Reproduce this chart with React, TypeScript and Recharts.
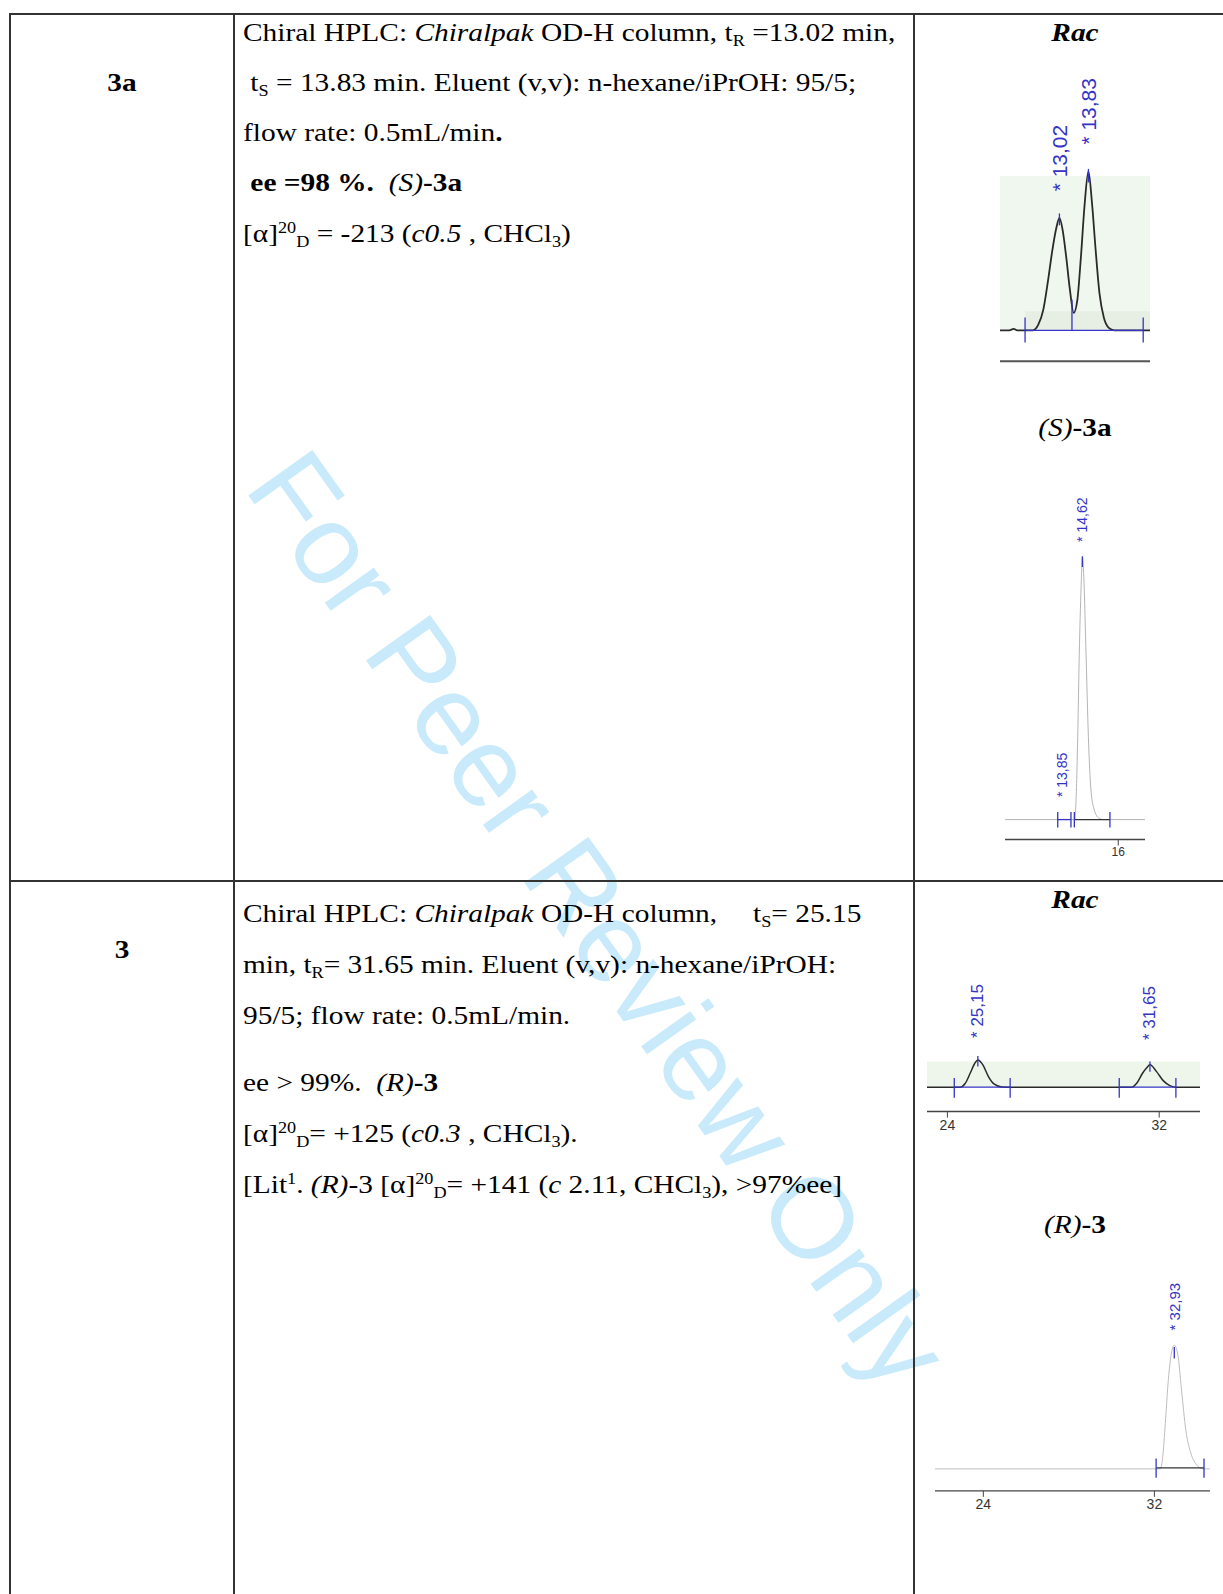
import React from 'react';
import { ComposedChart, Line, XAxis, YAxis, ReferenceArea, ReferenceLine, ReferenceDot } from 'recharts';

// ---------------- data (time in min, detector signal normalised to tallest peak = 100) ----------------
// Rac 3a
const rac3aTime = [11.36, 11.62, 11.74, 11.84, 12.28, 12.43, 12.57, 12.7, 12.82, 12.93, 13.02, 13.11, 13.21, 13.31, 13.42, 13.52, 13.62, 13.72, 13.83, 13.93, 14.03, 14.14, 14.26, 14.4, 14.55, 15.55];
const rac3aSignal = [0, 0, 0.9, 0, 0, 3.5, 13, 31, 50, 64, 70.7, 63, 46, 26, 11, 19, 46, 78, 100, 80, 51, 23, 8, 1.5, 0, 0];
const rac3aPeaks = [13.02, 13.83];
const rac3aLimits = [12.06, 13.37, 15.36];
const rac3aTicks: number[] = [];

// (S)-3a
const s3aTime = [11.64, 14.33, 14.37, 14.44, 14.5, 14.57, 14.62, 14.68, 14.76, 14.85, 14.95, 15.08, 15.23, 15.42, 17.03];
const s3aSignal = [0, 0, 6.1, 31.6, 63.4, 88.8, 100, 91, 63.4, 31.6, 11.2, 3.6, 0.8, 0, 0];
const s3aPeaks = [13.85, 14.62];
const s3aLimits = [13.67, 14.18, 14.31, 15.68];
const s3aTicks = [16];

// Rac 3
const rac3Time = [23.23, 24.48, 24.67, 24.86, 25.02, 25.15, 25.34, 25.55, 25.76, 26.05, 26.4, 30.96, 31.15, 31.37, 31.52, 31.65, 31.9, 32.15, 32.4, 32.66, 33.54];
const rac3Signal = [0, 0, 13.4, 51, 85, 100, 82, 39, 12, 1, 0, 0, 14.6, 51, 70, 82, 57, 24, 6, 0, 0];
const rac3Peaks = [25.15, 31.65];
const rac3Limits = [24.26, 26.37, 30.49, 32.63];
const rac3Ticks = [24, 32];

// (R)-3
const r3Time = [21.74, 32.27, 32.39, 32.51, 32.65, 32.81, 32.93, 33.09, 33.27, 33.47, 33.71, 33.99, 34.25, 34.6];
const r3Signal = [0, 0, 9.7, 36.6, 71.7, 94.6, 100, 93, 63.6, 31.3, 12.4, 3, 0, 0];
const r3Peaks = [32.93];
const r3Limits = [32.08, 34.32];
const r3Ticks = [24, 32];

// ---------------- styles ----------------
const SERIF = "'Liberation Serif', 'Times New Roman', serif";
const SANS = "'Liberation Sans', Arial, sans-serif";
const BLUE = '#3434c6';
const DARK = '#2a2a2a';
const FS = 26;
const STRETCH = 1.13;

const fmt = (p: number) => '* ' + p.toFixed(2).replace('.', ',');

type Seg = { x1: number; y1: number; x2: number; y2: number; color: string; width?: number };
type Band = { x1: number; x2: number; y1: number; y2: number; fill: string };
type Lbl = { t: number; y: number };

type ChromProps = {
  left: number; top: number; width: number; plotH: number; axisH: number;
  xDomain: [number, number]; yDomain: [number, number];
  time: number[]; signal: number[]; ticks: number[];
  lineColor: string; lineWidth: number; axisColor: string; axisWidth: number; tickFont: number;
  bands: Band[]; segs: Seg[]; labels: Lbl[]; labelSize: number;
};

function Chromatogram(p: ChromProps) {
  const data = p.time.map((t, i) => ({ t, v: p.signal[i] }));
  const hasTicks = p.ticks.length > 0;
  return (
    <div style={{ position: 'absolute', left: p.left, top: p.top }}>
      <ComposedChart width={p.width} height={p.plotH + p.axisH} data={data} margin={{ top: 0, right: 0, bottom: 0, left: 0 }}>
        <XAxis
          dataKey="t"
          type="number"
          domain={p.xDomain}
          allowDataOverflow
          ticks={hasTicks ? p.ticks : undefined}
          interval={0}
          height={p.axisH}
          axisLine={{ stroke: p.axisColor, strokeWidth: p.axisWidth }}
          tickLine={hasTicks ? { stroke: p.axisColor } : false}
          tickSize={6}
          tickMargin={2}
          tick={hasTicks ? { fontSize: p.tickFont, fill: '#333', fontFamily: SANS } : false}
        />
        <YAxis type="number" domain={p.yDomain} allowDataOverflow hide />
        {p.bands.map((b, i) => (
          <ReferenceArea key={'b' + i} x1={b.x1} x2={b.x2} y1={b.y1} y2={b.y2} fill={b.fill} fillOpacity={1} stroke="none" ifOverflow="visible" />
        ))}
        <Line type="monotone" dataKey="v" stroke={p.lineColor} strokeWidth={p.lineWidth} dot={false} activeDot={false} isAnimationActive={false} />
        {p.segs.map((s, i) => (
          <ReferenceLine
            key={'s' + i}
            segment={[{ x: s.x1, y: s.y1 }, { x: s.x2, y: s.y2 }]}
            stroke={s.color}
            strokeWidth={s.width ?? 1.3}
            ifOverflow="visible"
          />
        ))}
        {p.labels.map((l, i) => (
          <ReferenceDot
            key={'l' + i}
            x={l.t}
            y={l.y}
            r={0}
            ifOverflow="visible"
            shape={(sp: any) => (
              <text
                x={sp.cx}
                y={sp.cy}
                transform={`rotate(-90 ${sp.cx} ${sp.cy})`}
                fill={BLUE}
                fontSize={p.labelSize}
                fontFamily={SANS}
                dominantBaseline="central"
                textAnchor="start"
              >
                {fmt(l.t)}
              </text>
            )}
          />
        ))}
      </ComposedChart>
    </div>
  );
}

const vTick = (x: number, up: number, down: number, color = BLUE): Seg => ({ x1: x, y1: up, x2: x, y2: down, color });

const Sub = ({ children }: { children: React.ReactNode }) => (
  <span style={{ fontSize: '0.62em', position: 'relative', top: '0.3em', lineHeight: 0 }}>{children}</span>
);
const Sup = ({ children }: { children: React.ReactNode }) => (
  <span style={{ fontSize: '0.62em', position: 'relative', top: '-0.55em', lineHeight: 0 }}>{children}</span>
);

const TL = ({ x, b, center, children }: { x: number; b: number; center?: boolean; children: React.ReactNode }) => (
  <div
    style={{
      position: 'absolute',
      left: x,
      top: b - 0.8375 * FS,
      fontSize: FS,
      lineHeight: `${FS}px`,
      whiteSpace: 'pre',
      fontFamily: SERIF,
      color: '#000',
      transform: center ? `translateX(-50%) scaleX(${STRETCH})` : `scaleX(${STRETCH})`,
      transformOrigin: center ? '50% 0' : '0 0',
    }}
  >
    {children}
  </div>
);

const LINE = '#333';
const Rule = ({ x, y, w, h }: { x: number; y: number; w: number; h: number }) => (
  <div style={{ position: 'absolute', left: x, top: y, width: w, height: h, background: LINE }} />
);

export default function App() {
  const TX = 243;
  return (
    <div style={{ position: 'absolute', left: 0, top: 0, width: 1223, height: 1594, overflow: 'hidden', background: '#fff', fontFamily: SERIF }}>
      {/* watermark */}
      <svg width={1223} height={1594} style={{ position: 'absolute', left: 0, top: 0 }}>
        <text
          x={599}
          y={919}
          transform="rotate(54.5 599 919)"
          textAnchor="middle"
          dominantBaseline="central"
          fontSize={114}
          fontFamily={SANS}
          fill="#c8eafb"
        >
          For Peer Review Only
        </text>
      </svg>

      {/* table rules */}
      <Rule x={8.7} y={12.7} w={1223} h={2} />
      <Rule x={8.7} y={880} w={1223} h={2} />
      <Rule x={8.7} y={12.7} w={2} h={1600} />
      <Rule x={232.7} y={12.7} w={2} h={1600} />
      <Rule x={913.3} y={12.7} w={2} h={1600} />

      {/* column 1 */}
      <TL x={121.5} b={91.7} center><b>3a</b></TL>
      <TL x={121.5} b={958.7} center><b>3</b></TL>

      {/* row 1 text */}
      <TL x={TX} b={41.7}>{'Chiral HPLC: '}<i>Chiralpak</i>{' OD-H column, t'}<Sub>R</Sub>{' =13.02 min,'}</TL>
      <TL x={TX} b={91.6}>{' t'}<Sub>S</Sub>{' = 13.83 min. Eluent (v,v): n-hexane/iPrOH: 95/5;'}</TL>
      <TL x={TX} b={141.4}>{'flow rate: 0.5mL/min'}<b>.</b></TL>
      <TL x={TX} b={192.2}><b>{' ee =98 %.'}</b>{'  '}<i>(S)</i><b>-3a</b></TL>
      <TL x={TX} b={243}>{'[α]'}<Sup>20</Sup><Sub>D</Sub>{' = -213 ('}<i>c0.5</i>{' , CHCl'}<Sub>3</Sub>{')'}</TL>

      {/* row 2 text */}
      <TL x={TX} b={923.2}>{'Chiral HPLC: '}<i>Chiralpak</i>{' OD-H column,'}</TL>
      <TL x={753} b={923.2}>{'t'}<Sub>S</Sub>{'= 25.15'}</TL>
      <TL x={TX} b={974}>{'min, t'}<Sub>R</Sub>{'= 31.65 min. Eluent (v,v): n-hexane/iPrOH:'}</TL>
      <TL x={TX} b={1024.8}>{'95/5; flow rate: 0.5mL/min.'}</TL>
      <TL x={TX} b={1091.9}>{'ee > 99%.  '}<i>(R)</i><b>-3</b></TL>
      <TL x={TX} b={1142.8}>{'[α]'}<Sup>20</Sup><Sub>D</Sub>{'= +125 ('}<i>c0.3</i>{' , CHCl'}<Sub>3</Sub>{').'}</TL>
      <TL x={TX} b={1193.6}>{'[Lit'}<Sup>1</Sup>{'. '}<i>(R)</i>{'-3 [α]'}<Sup>20</Sup><Sub>D</Sub>{'= +141 ('}<i>c</i>{' 2.11, CHCl'}<Sub>3</Sub>{'), >97%ee]'}</TL>

      {/* column 3 titles */}
      <TL x={1074.5} b={42} center><b><i>Rac</i></b></TL>
      <TL x={1074.5} b={436.5} center><i>(S)</i><b>-3a</b></TL>
      <TL x={1074.5} b={908.5} center><b><i>Rac</i></b></TL>
      <TL x={1074.5} b={1233.5} center><i>(R)</i><b>-3</b></TL>

      {/* Rac 3a */}
      <Chromatogram
        left={1000} top={60.4} width={150} plotH={301.3} axisH={4}
        xDomain={[11.36, 15.55]} yDomain={[-19.5, 170]}
        time={rac3aTime} signal={rac3aSignal} ticks={rac3aTicks}
        lineColor={DARK} lineWidth={1.8} axisColor="#555" axisWidth={2} tickFont={13}
        bands={[
          { x1: 11.36, x2: 15.55, y1: 0, y2: 97, fill: '#f0f7ee' },
          { x1: rac3aLimits[0], x2: 15.55, y1: 0, y2: 12, fill: '#e7efe5' },
        ]}
        segs={[
          { x1: rac3aLimits[0], y1: 0, x2: rac3aLimits[2], y2: 0, color: BLUE },
          vTick(rac3aLimits[0], 8, -7.7),
          vTick(rac3aLimits[1], 19.3, 0),
          vTick(rac3aLimits[2], 8, -7.7),
          vTick(rac3aPeaks[0], 73.5, 66),
          vTick(rac3aPeaks[1], 101.5, 93),
        ]}
        labels={[{ t: rac3aPeaks[0], y: 87.4 }, { t: rac3aPeaks[1], y: 116.8 }]}
        labelSize={21}
      />

      {/* (S)-3a */}
      <Chromatogram
        left={1005} top={478.8} width={140} plotH={360.5} axisH={22}
        xDomain={[11.64, 17.03]} yDomain={[-7.6, 130]}
        time={s3aTime} signal={s3aSignal} ticks={s3aTicks}
        lineColor="#b5b5b5" lineWidth={1} axisColor="#444" axisWidth={1.3} tickFont={12}
        bands={[]}
        segs={[
          { x1: s3aLimits[0], y1: 0, x2: s3aLimits[1], y2: 0, color: BLUE },
          { x1: s3aLimits[2], y1: 0, x2: s3aLimits[3], y2: 0, color: '#333' },
          vTick(s3aLimits[0], 2.9, -3),
          vTick(s3aLimits[1], 2.9, -3),
          vTick(s3aLimits[2], 2.9, -3),
          vTick(s3aLimits[3], 2.9, -3),
          vTick(s3aPeaks[1], 100.5, 96.4),
        ]}
        labels={[{ t: s3aPeaks[0], y: 8.6 }, { t: s3aPeaks[1], y: 106 }]}
        labelSize={14}
      />

      {/* Rac 3 */}
      <Chromatogram
        left={927} top={978.1} width={273} plotH={133.6} axisH={24}
        xDomain={[23.23, 33.54]} yDomain={[-89.4, 400]}
        time={rac3Time} signal={rac3Signal} ticks={rac3Ticks}
        lineColor={DARK} lineWidth={1.5} axisColor="#444" axisWidth={1.5} tickFont={14}
        bands={[{ x1: 23.23, x2: 33.54, y1: 0, y2: 93.8, fill: '#eef6ec' }]}
        segs={[
          { x1: rac3Limits[0], y1: 0, x2: rac3Limits[1], y2: 0, color: BLUE },
          { x1: rac3Limits[2], y1: 0, x2: rac3Limits[3], y2: 0, color: BLUE },
          vTick(rac3Limits[0], 34, -39),
          vTick(rac3Limits[1], 34, -39),
          vTick(rac3Limits[2], 34, -39),
          vTick(rac3Limits[3], 34, -39),
          vTick(rac3Peaks[0], 114.6, 75.5),
          vTick(rac3Peaks[1], 93.8, 57),
        ]}
        labels={[{ t: rac3Peaks[0], y: 180.6 }, { t: rac3Peaks[1], y: 173 }]}
        labelSize={17}
      />

      {/* (R)-3 */}
      <Chromatogram
        left={935} top={1270.8} width={275} plotH={219.9} axisH={24}
        xDomain={[21.74, 34.6]} yDomain={[-17.8, 160]}
        time={r3Time} signal={r3Signal} ticks={r3Ticks}
        lineColor="#bdbdbd" lineWidth={1} axisColor="#444" axisWidth={1.3} tickFont={14}
        bands={[]}
        segs={[
          { x1: r3Limits[0], y1: 0.8, x2: r3Limits[1], y2: 0.8, color: '#333' },
          vTick(r3Limits[0], 8.4, -7.1),
          vTick(r3Limits[1], 8.4, -7.1),
          vTick(r3Peaks[0], 98.6, 89.2),
        ]}
        labels={[{ t: r3Peaks[0], y: 112 }]}
        labelSize={15}
      />
    </div>
  );
}
